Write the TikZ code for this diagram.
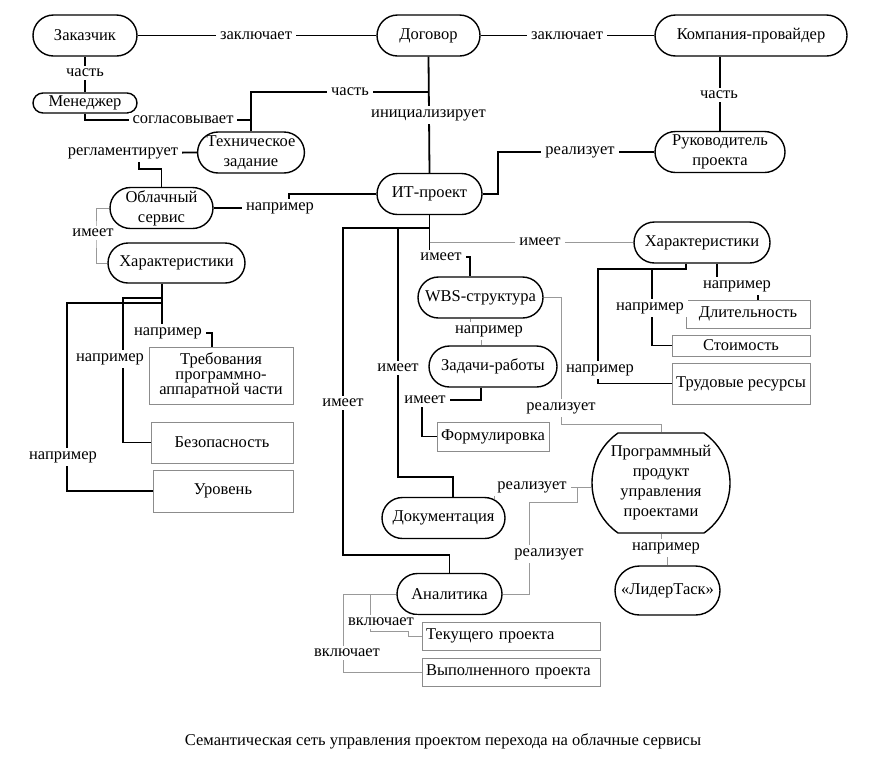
\documentclass[tikz,border=0pt]{standalone}
\usepackage{fontspec}
\setmainfont{Liberation Serif}
\usetikzlibrary{shapes,backgrounds}
\definecolor{linegray}{gray}{0.6}
\definecolor{boxgray}{gray}{0.55}

\begin{document}
\begin{tikzpicture}[x=10pt,y=10pt]
          \tikzstyle{every node}+=[inner sep=0pt, font=\fontsize{16.5}{20}\selectfont]
          \tikzstyle{concept}=[draw, rounded rectangle, line width=1.4pt, minimum height=41pt, align=center]
          \tikzstyle{item}=[draw=boxgray, rectangle, line width=0.9pt, minimum height=28pt, align=center]
          \tikzstyle{rel}=[fill=white, inner xsep=4pt, inner ysep=3pt]
          \tikzstyle{strong}=[line width=1.8pt]
          \tikzstyle{faint}=[draw=linegray, line width=1pt]
          \useasboundingbox (0,0) rectangle (86.9,-76.4);
          % concepts
          \node[concept, minimum width=104pt] (zakazchik) at (8.5,-3.55) {Заказчик};
          \node[concept, minimum width=103pt] (dogovor) at (42.85,-3.55) {Договор};
          \node[concept, minimum width=192pt] (kompania) at (75.1,-3.55) {Компания-провайдер};
          \node[concept, minimum width=104pt, minimum height=20pt] (menedzher) at (8.5,-10.3) {Менеджер};
          \node[concept, minimum width=104pt] (tz) at (25.1,-15.25) {Техническое\\задание};
          \node[concept, minimum width=130pt] (rukovod) at (72,-15.2) {Руководитель\\проекта};
          \node[concept, minimum width=103pt] (oblako) at (16.15,-20.8) {Облачный\\сервис};
          \node[concept, minimum width=105pt] (itproekt) at (42.95,-19.4) {ИТ-проект};
          \node[concept, minimum width=137pt, minimum height=40pt] (harL) at (17.65,-26.3) {Характеристики};
          \node[concept, minimum width=136pt] (harR) at (70.2,-24.25) {Характеристики};
          \node[concept, minimum width=125pt] (wbs) at (48.05,-29.75) {WBS-структура};
          \node[concept, minimum width=128pt] (zadachi) at (49.3,-36.65) {Задачи-работы};
          \node[concept, minimum width=123pt] (dokum) at (44.35,-51.8) {Документация};
          \node[concept, minimum width=105pt] (analitika) at (44.95,-59.4) {Аналитика};
          \node[concept, minimum width=138pt, minimum height=100pt, rounded rectangle arc length=110] (produkt) at (66.1,-48.3) {Программный\\продукт\\управления\\проектами};
          \node[concept, minimum width=105pt, minimum height=49pt] (lider) at (66.75,-59.05) {«ЛидерТаск»};
          % items
          \node[item, minimum width=112pt, minimum height=29pt] (formul) at (49.3,-43.65) {Формулировка};
          \node[item, minimum width=124pt] (dlit) at (74.8,-31.4) {Длительность};
          \node[item, minimum width=138pt, minimum height=21pt] (stoim) at (74.1,-34.55) {Стоимость};
          \node[item, minimum width=138pt, minimum height=41pt] (trud) at (74.1,-38.35) {Трудовые ресурсы};
          \node[item, minimum width=144pt, minimum height=57pt, font=\fontsize{16.5}{15}\selectfont] (treb) at (22.1,-37.55) {Требования\\программно-\\аппаратной части};
          \node[item, minimum width=142pt, minimum height=41pt] (bezop) at (22.2,-44.25) {Безопасность};
          \node[item, minimum width=140pt, minimum height=42pt] (uroven) at (22.3,-49.1) {Уровень};
          \node[item, minimum width=178pt, text width=170pt, align=left] (tekush) at (51.1,-63.6) {Текущего проекта};
          \node[item, minimum width=178pt, text width=170pt, align=left] (vypoln) at (51.1,-67.2) {Выполненного проекта};
          % relations
          \node[rel] (zakl1) at (25.6,-3.55) {заключает};
          \node[rel] (zakl2) at (56.7,-3.55) {заключает};
          \node[rel] (chast1) at (8.5,-7.3) {часть};
          \node[rel] (chast2) at (35,-9.2) {часть};
          \node[rel] (chast3) at (71.9,-9.5) {часть};
          \node[rel] (soglas) at (18.3,-12) {согласовывает};
          \node[rel] (inic) at (42.85,-11.5) {инициализирует};
          \node[rel] (reglam) at (12.3,-15.3) {регламентирует};
          \node[rel] (naprObl) at (28,-20.8) {например};
          \node[rel] (realRuk) at (58,-15.2) {реализует};
          \node[rel] (imeetObl) at (9.3,-23.3) {имеет};
          \node[rel] (imeetHar) at (54,-24.2) {имеет};
          \node[rel] (imeetWbs) at (44.1,-25.7) {имеет};
          \node[rel] (naprTreb) at (16.8,-33.3) {например};
          \node[rel] (naprBez) at (11,-35.9) {например};
          \node[rel] (naprUr) at (6.3,-45.7) {например};
          \node[rel] (naprDlit) at (73.7,-28.6) {например};
          \node[rel] (naprStoim) at (65,-30.8) {например};
          \node[rel] (naprTrud) at (60,-37) {например};
          \node[rel] (naprZad) at (48.9,-33.1) {например};
          \node[rel] (imeetForm) at (42.5,-40) {имеет};
          \node[rel] (imeetDok) at (39.8,-36.8) {имеет};
          \node[rel] (imeetAn) at (34.3,-40.3) {имеет};
          \node[rel] (realWbs) at (56.1,-40.8) {реализует};
          \node[rel] (realDok) at (53.2,-48.7) {реализует};
          \node[rel] (realAn) at (54.9,-55.4) {реализует};
          \node[rel] (naprLid) at (66.6,-54.8) {например};
          \node[rel] (vkl1) at (38.1,-62.2) {включает};
          \node[rel] (vkl2) at (34.7,-65.3) {включает};
          \node (caption) at (44.3,-74.1) {Семантическая сеть управления проектом перехода на облачные сервисы};
          \begin{scope}[on background layer]
          \draw[strong] (zakazchik.east) -- (dogovor.west);
          \draw[strong] (dogovor.east) -- (kompania.west);
          \draw[strong] (zakazchik.south) -- (menedzher.north);
          \draw[strong] (menedzher.south) |- (soglas.center) -| (tz.north);
          \draw[strong] (tz.north) |- (dogovor.south |- chast2);
          \draw[strong] (dogovor.south) -- (itproekt.north);
          \draw[strong] (rukovod.north) -- (rukovod.north |- kompania.south);
          \draw[strong] (itproekt.east) -| (49.8,-15.2) -- (rukovod.west);
          \draw[strong] (tz.west) -- (reglam.center);
          \draw[strong] (13.9,-15.3) |- (16.15,-16.9) -- (oblako.north);
          \draw[strong] (oblako.east) -- (naprObl.center);
          \draw[strong] (itproekt.west) -| (28.9,-20.7);
          \draw[faint] (oblako.west) -| (9.6,-23.3) |- (harL.west);
          % left characteristics
          \draw[strong] ([xshift=-14.5pt]harL.south) -- ++(0,-5);
          \draw[strong] (naprTreb.east) -| ([xshift=-9pt]treb.north);
          \draw[strong] (16.2,-29.8) -- (12.3,-29.8) |- (bezop.west);
          \draw[strong] (16.2,-30.3) -- (6.7,-30.3) |- (uroven.west);
          % project parts
          \draw[strong] (itproekt.south) -- ++(0,-4.2);
          \draw[strong] (imeetWbs.east) -| ([xshift=-10.5pt]wbs.north);
          \draw[strong] (42.95,-22.8) -- (34.3,-22.8) |- (44.95,-55.5) -- (analitika.north);
          \draw[strong] (39.8,-22.8) |- (45.3,-47.7) -- ([xshift=9.5pt]dokum.north);
          \draw[faint] (itproekt.south |- harR.west) -- (harR.west);
          \draw[faint] ([xshift=-10.5pt]wbs.south) -- ++(0,-1.3);
          \draw[faint] ([xshift=-12pt]zadachi.north) -- ++(0,1.5);
          \draw[strong] ([xshift=-12pt]zadachi.south) |- (imeetForm.center);
          \draw[strong] (42.2,-40) |- (formul.west);
          \draw[faint] (wbs.east) -| (realWbs.center);
          \draw[faint] (realWbs.center) |- ([yshift=8pt]produkt.north) -- (produkt.north);
          % right characteristics
          \draw[strong] ([xshift=15pt]harR.south) -- ++(0,-2.25);
          \draw[strong] (75.8,-28.6) -- ([xshift=10pt]dlit.north);
          \draw[strong] ([xshift=-16pt]harR.south) |- (59.8,-26.9) |- (trud.west);
          \draw[strong] (65.2,-26.9) |- (stoim.west);
          % software product
          \draw[faint] (dokum.20) |- (realDok.center);
          \draw[faint] (realDok.center) -- (realDok.center -| produkt.west);
          \draw[faint] (analitika.east) -| (52.9,-50.2) -| (57.7,-48.7);
          \draw[faint] (produkt.south) -- (produkt.south |- naprLid);
          \draw[faint] (lider.north |- naprLid) -- (lider.north);
          \draw[faint] (analitika.west) -| (34.3,-67.2) -- (vypoln.west);
          \draw[faint] (37,-59.4) |- (40.8,-63.1) |- (tekush.west);
          \end{scope}
        \end{tikzpicture}
\end{document}
